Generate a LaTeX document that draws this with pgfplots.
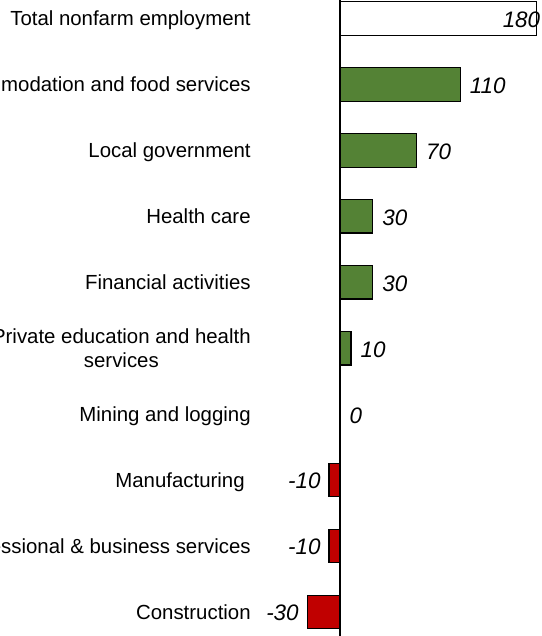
\documentclass[border=0pt]{standalone}
\usepackage{pgfplots}
\pgfplotsset{compat=1.18}
\usepackage{fontspec}
\setmainfont{Liberation Sans}
\definecolor{barGreen}{RGB}{84,130,53}
\definecolor{barRed}{RGB}{192,0,0}

\begin{document}
\begin{tikzpicture}
\begin{axis}[
    name=ax,
    x=0.5465pt, y=32.97pt,
    xmin=-311.1, xmax=184.8,
    ymin=-0.2806, ymax=9.365,
    y dir=reverse,
    axis lines=none,
    clip=false,
    xbar, bar width=16.75pt, bar shift=0pt,
    point meta=explicit symbolic,
    every node near coord/.append style={font=\fontsize{11.2}{13}\selectfont\itshape,
        inner sep=0pt, yshift=-0.6pt},
]
% total, label sits inside the bar end
\addplot[fill=white, draw=black, line width=0.6pt,
    nodes near coords, nodes near coords style={anchor=east, xshift=2pt}]
    coordinates {(180,0) [180]};
% gains
\addplot[fill=barGreen, draw=black, line width=0.6pt,
    nodes near coords, nodes near coords style={anchor=west, xshift=4.5pt}]
    coordinates {(110,1) [110] (70,2) [70] (30,3) [30] (30,4) [30] (10,5) [10] (0,6) [0]};
% losses
\addplot[fill=barRed, draw=black, line width=0.6pt,
    nodes near coords, nodes near coords style={anchor=east, xshift=-4pt}]
    coordinates {(-10,7) [-10] (-10,8) [-10] (-30,9) [-30]};

\draw[line width=0.6pt] (axis cs:0,-0.2806) -- (axis cs:0,9.365);

\begin{scope}[every node/.style={anchor=east, inner sep=0pt, align=center,
    font=\fontsize{10.2}{12}\selectfont}]
\node at (axis cs:-81.4,0.03) {Total nonfarm employment};
\node at (axis cs:-81.4,1) {Accommodation and food services};
\node at (axis cs:-81.4,2.03) {Local government};
\node at (axis cs:-81.4,3) {Health care};
\node at (axis cs:-81.4,4) {Financial activities};
\node at (axis cs:-81.4,5) {Private education and health\\services};
\node at (axis cs:-81.4,6.03) {Mining and logging};
\node at (axis cs:-86.9,7.03) {Manufacturing};
\node at (axis cs:-81.4,8) {Professional \& business services};
\node at (axis cs:-81.4,9) {Construction};
\end{scope}
\end{axis}
\pgfresetboundingbox
\path[use as bounding box] (ax.south west) rectangle (ax.north east);
\end{tikzpicture}
\end{document}
